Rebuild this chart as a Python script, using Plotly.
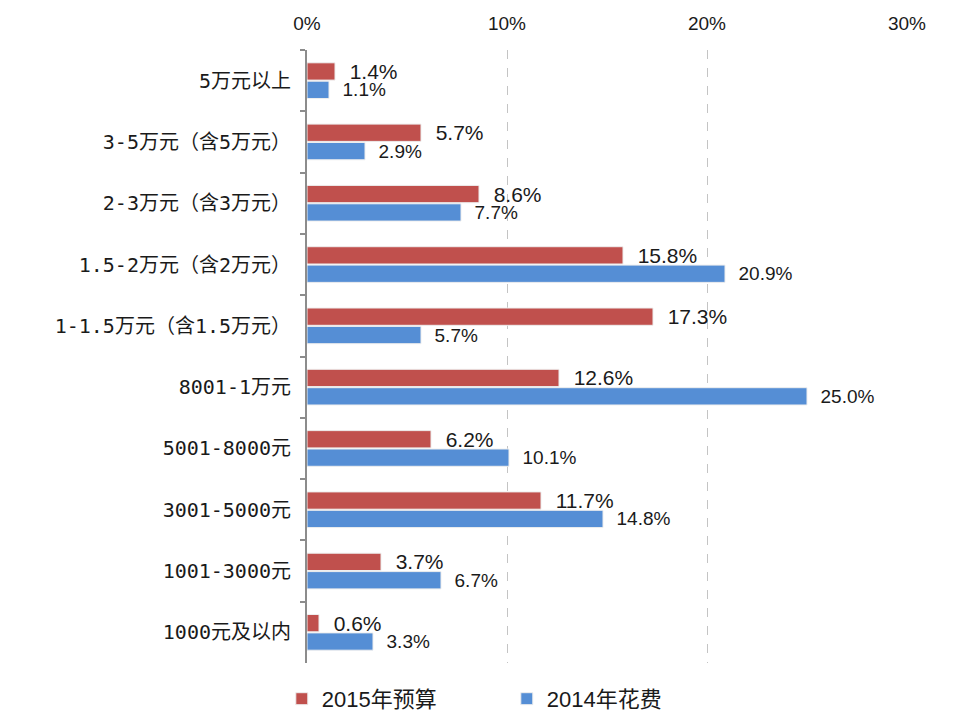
import plotly.graph_objects as go

categories = ["5万元以上", "3-5万元（含5万元）", "2-3万元（含3万元）", "1.5-2万元（含2万元）",
              "1-1.5万元（含1.5万元）", "8001-1万元", "5001-8000元", "3001-5000元",
              "1001-3000元", "1000元及以内"]
budget_2015 = [1.4, 5.7, 8.6, 15.8, 17.3, 12.6, 6.2, 11.7, 3.7, 0.6]
spend_2014 = [1.1, 2.9, 7.7, 20.9, 5.7, 25.0, 10.1, 14.8, 6.7, 3.3]
series_names = ["2015年预算", "2014年花费"]
x_ticks = [0, 10, 20, 30]
x_tick_labels = ["0%", "10%", "20%", "30%"]

RED = "#C0504D"
BLUE = "#558ED5"
TXT = "#1a1a1a"

fig = go.Figure()
fig.add_trace(go.Bar(
    y=categories, x=budget_2015, name=series_names[0], orientation="h",
    marker=dict(color=RED, line=dict(color="#eeeeee", width=1)),
    texttemplate="\u00a0\u00a0%{x:.1f}%", textposition="outside",
    textfont=dict(size=21, color=TXT, family="Liberation Sans, Arial"),
    cliponaxis=False, constraintext="none",
))
fig.add_trace(go.Bar(
    y=categories, x=spend_2014, name=series_names[1], orientation="h",
    marker=dict(color=BLUE, line=dict(color="#eeeeee", width=1)),
    texttemplate="\u00a0\u00a0%{x:.1f}%", textposition="outside",
    textfont=dict(size=19, color=TXT, family="Liberation Sans, Arial"),
    cliponaxis=False, constraintext="none",
))

fig.update_layout(
    width=964, height=713,
    margin=dict(l=299, r=65, t=42, b=58, autoexpand=False),
    paper_bgcolor="white", plot_bgcolor="white",
    barmode="group", bargap=0.40, bargroupgap=0.06,
    font=dict(family="Liberation Sans, Arial, Noto Sans CJK SC", color=TXT),
    showlegend=True,
    legend=dict(orientation="h", x=-0.042, xanchor="left", yref="container", y=0.031, yanchor="middle",
                font=dict(size=22, family="Liberation Sans, Noto Sans CJK SC", color=TXT),
                entrywidth=180, entrywidthmode="pixels", itemwidth=30, traceorder="normal"),
    xaxis=dict(side="top", range=[0, 30], tickmode="array", tickvals=x_ticks, ticktext=x_tick_labels,
               showgrid=True, gridcolor="#c4c4c4", griddash="dash", gridwidth=1,
               zeroline=False, showline=False, ticks="", ticklabelstandoff=15,
               tickfont=dict(size=19, color=TXT)),
    yaxis=dict(autorange="reversed", showline=True, linecolor="#8c8c8c", linewidth=2,
               ticks="outside", tickson="boundaries", ticklen=5, tickcolor="#8c8c8c", tickwidth=1.5,
               ticklabelstandoff=10, showgrid=False,
               tickfont=dict(size=20, family="DejaVu Sans Mono, Noto Sans CJK SC", color=TXT)),
)

fig.write_html("out.html")
